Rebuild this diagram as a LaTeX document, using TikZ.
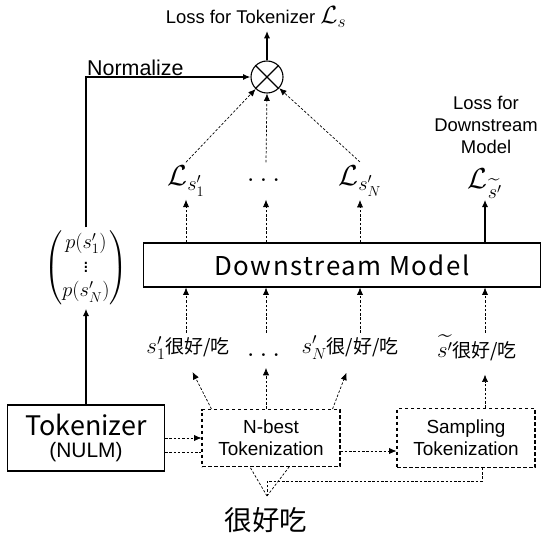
\documentclass[tikz,border=0pt]{standalone}
\usepackage{fix-cm}
\usepackage{amsmath}
\usepackage{fontspec}
\setmainfont{Liberation Sans}
\newfontfamily\cjkfont{Noto Sans CJK JP}
\newfontfamily\cjkwide[LetterSpace=6]{Noto Sans CJK JP}
\usetikzlibrary{arrows.meta}
\usetikzlibrary{positioning}

\begin{document}
\begin{tikzpicture}[x=1bp,y=-1bp,
        boxline/.style={draw,line width=1.1bp},
        dashbox/.style={draw,line width=1.1bp,dash pattern=on 3.5bp off 2.5bp},
        thinline/.style={line width=0.7bp,dash pattern=on 2.5bp off 1.8bp},
        thinarrow/.style={thinline,-{Latex[length=2.6mm,width=2.2mm]}},
        thickarrow/.style={line width=1.6bp,-{Latex[length=2.6mm,width=2.2mm]}},
        lossmath/.style={font=\fontsize{29}{32}\selectfont}]
            \useasboundingbox (0,0) rectangle (542,535);

            % losses on top
            \node (losstok) at (256,17) {\fontsize{18.5}{20}\selectfont Loss for Tokenizer {\fontsize{25}{28}\selectfont$\mathcal{L}_s$}};
            \node[circle,boxline,minimum size=32bp,inner sep=0pt] (mult) at (267,77) {};
            \draw[line width=1.1bp] (mult.north west) -- (mult.south east);
            \draw[line width=1.1bp] (mult.north east) -- (mult.south west);
            \draw[thickarrow] (mult.north) -- (mult.north |- losstok.south);

            \node[align=center,font=\fontsize{18.5}{22}\selectfont] (lossdm) at (486,125) {Loss for\\Downstream\\Model};

            \node[lossmath] (l1) at (186,181) {$\mathcal{L}_{s'_1}$};
            \node[lossmath] (ldots) at (266,180) {$\dots$};
            \node[lossmath] (lN) at (360,181) {$\mathcal{L}_{s'_N}$};
            \node[lossmath] (ltil) at (485,184) {$\mathcal{L}_{\widetilde{s'}}$};

            \draw[thinarrow] (l1.north) -- (mult);
            \draw[thinarrow] (ldots |- l1.north) -- (mult.south);
            \draw[thinarrow] (lN.north) -- (mult);

            % downstream model
            \node[boxline,minimum width=397bp,minimum height=44bp] (dm) at (342,265) {\cjkwide\fontsize{26}{28}\selectfont Downstream Model};

            \draw[thinarrow] (l1 |- dm.north) -- (l1.south);
            \draw[thinarrow] (ldots |- dm.north) -- (ldots |- l1.south);
            \draw[thinarrow] (lN |- dm.north) -- (lN.south);
            \draw[thickarrow] (ltil |- dm.north) -- (ltil |- l1.south);

            % tokenized sentences
            \node[font=\fontsize{19}{21}\selectfont] (t1) at (188,348) {{\fontsize{23}{25}\selectfont$s'_1$}\cjkfont 很好/吃};
            \node[lossmath] (tdots) at (266,355) {$\dots$};
            \node[font=\fontsize{19}{21}\selectfont] (tN) at (350,348) {{\fontsize{23}{25}\selectfont$s'_N$}\cjkfont 很/好/吃};
            \node[font=\fontsize{19}{21}\selectfont] (ttil) at (477,348) {{\fontsize{23}{25}\selectfont$\widetilde{s'}$}\cjkfont 很好/吃};

            \draw[thinarrow] (l1 |- t1.north) -- (l1 |- dm.south);
            \draw[thinarrow] (ldots |- t1.north) -- (ldots |- dm.south);
            \draw[thinarrow] (lN |- t1.north) -- (lN |- dm.south);
            \draw[thinarrow] (ltil |- t1.north) -- (ltil |- dm.south);

            % tokenizer side
            \node[boxline,minimum width=157bp,minimum height=66bp,align=center] (tok) at (86,438)
                {\cjkfont\fontsize{27}{29}\selectfont Tokenizer\\[6bp]\fontsize{21}{24}\selectfont (NULM)};
            \node[font=\fontsize{20.5}{24}\selectfont] (pvec) at (86,268) {$\begin{pmatrix}p(s'_1)\\ \vdots\\ p(s'_N)\end{pmatrix}$};
            \coordinate (corner) at (pvec.north |- mult.west);
            \node[anchor=south west,inner sep=1bp,font=\fontsize{21.5}{24}\selectfont] (norm) at (corner) {Normalize};

            \draw[thickarrow] (tok.north) -- (pvec.south);
            \draw[thickarrow] (pvec.north) -- (corner) -- (mult.west);

            % tokenizations
            \node[dashbox,minimum width=138bp,minimum height=57bp,align=center,font=\fontsize{19}{22}\selectfont] (nb) at (271,438) {N-best\\Tokenization};
            \node[dashbox,minimum width=138bp,minimum height=59bp,align=center,font=\fontsize{19}{22}\selectfont] (st) at (466,438) {Sampling\\Tokenization};

            \draw[thinarrow] (tok.east) -- (nb.west);
            \draw[thinline] ([yshift=-14bp]tok.east) -- ([yshift=-14bp]nb.west);
            \draw[thinarrow] ([yshift=-13bp]nb.east) -- ([yshift=-13bp]st.west);

            \draw[thinarrow,shorten >=10bp] ([xshift=10bp]nb.north west) -- (t1.south);
            \draw[thinarrow,shorten >=8bp] (nb.north -| tdots) -- (tdots.south);
            \draw[thinarrow,shorten >=10bp] ([xshift=-8bp]nb.north east) -- (tN.south);
            \draw[thinarrow,shorten >=10bp] (st.north -| ltil) -- (ttil.south -| ltil);

            % input sentence
            \node[font=\fontsize{27.5}{30}\selectfont] (src) at (266,520) {\cjkfont 很好吃};
            \coordinate (apex) at (267,496);
            \coordinate (bend) at (267,481);
            \coordinate (stin) at ([xshift=16bp]st.south);
            \draw[thinline] (apex) -- ([xshift=-21bp]nb.south);
            \draw[thinline] (apex) -- ([xshift=18bp]nb.south);
            \draw[thinline] (apex) -- (bend) -- (bend -| stin) -- (stin);
        \end{tikzpicture}
\end{document}
